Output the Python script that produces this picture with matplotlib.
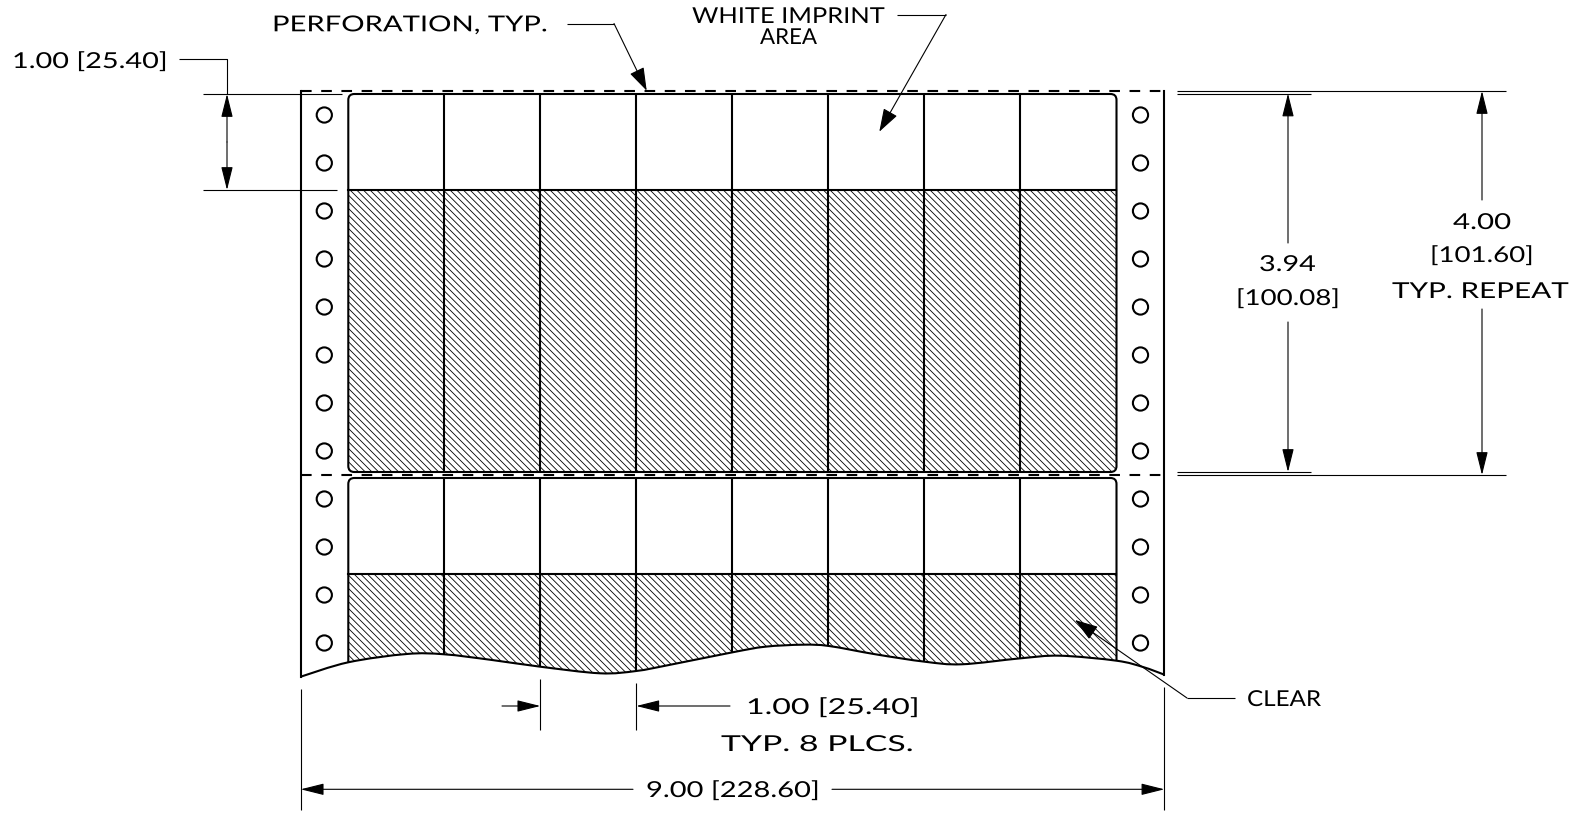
import matplotlib
matplotlib.use("Agg")
import matplotlib.pyplot as plt
from matplotlib.patches import Circle, FancyBboxPatch, PathPatch, Polygon, Rectangle
from matplotlib.path import Path
from matplotlib.patheffects import AbstractPathEffect
from matplotlib.transforms import Affine2D

# everything is in image pixels, y going down
column_edges = [348.3, 444.3, 540.3, 636.3, 732.4, 828.4, 924.4, 1020.4, 1116.5]
hole_rows = [115, 163, 211, 259, 307, 355, 403, 451, 499, 547, 595, 643]
hole_cols = [324.3, 1140.5]
wave_x = [300.7, 348.3, 406.7, 444.3, 492, 540.3, 600, 636.2, 669, 732.6, 765.3,
          803, 829, 875.5, 924.7, 961.6, 1020.7, 1060, 1116.5, 1143, 1164.4]
wave_y = [676.7, 662.3, 654, 654.3, 660, 666.7, 673.3, 671, 665, 652.3, 646.7,
          644.7, 646, 654.3, 661.7, 664.3, 658.3, 655.7, 660.7, 667, 674.7]
paper_left = 300.7
paper_right = 1164.4
perf_lines = [91, 475]
label_texts = ["PERFORATION, TYP.", "WHITE IMPRINT", "AREA", "1.00 [25.40]", "3.94", "[100.08]",
               "4.00", "[101.60]", "TYP. REPEAT", "1.00 [25.40]", "TYP. 8 PLCS.", "9.00 [228.60]", "CLEAR"]
label_left = [272, 692, 760, 12, 1259, 1236, 1453, 1430, 1392, 746, 721, 646, 1247]
label_right = [548, 885, 817, 168, 1316, 1340, 1511, 1534, 1569, 920, 914, 820, 1321]
label_mid = [23.3, 15, 36, 60, 263, 297, 221, 254, 290, 706, 743, 789, 698]

HEAVY = 1.5
THIN = 0.8
plt.rcParams["hatch.linewidth"] = 0.6


class StretchX(AbstractPathEffect):
    # the drawing font is much wider than anything installed
    def __init__(self, factor):
        super().__init__()
        self.factor = factor

    def draw_path(self, renderer, gc, tpath, affine, rgbFace=None):
        renderer.draw_path(gc, tpath, Affine2D().scale(self.factor, 1) + affine, rgbFace)


def smooth_path(xs, ys):
    # catmull-rom through the points
    pts = list(zip(xs, ys))
    verts = [pts[0]]
    codes = [Path.MOVETO]
    for i in range(len(pts) - 1):
        p0 = pts[max(i - 1, 0)]
        p1 = pts[i]
        p2 = pts[i + 1]
        p3 = pts[min(i + 2, len(pts) - 1)]
        verts.append((p1[0] + (p2[0] - p0[0]) / 6, p1[1] + (p2[1] - p0[1]) / 6))
        verts.append((p2[0] - (p3[0] - p1[0]) / 6, p2[1] - (p3[1] - p1[1]) / 6))
        verts.append(p2)
        codes += [Path.CURVE4] * 3
    return Path(verts, codes)


def thin_line(ax, xs, ys):
    ax.plot(xs, ys, color="black", lw=THIN, solid_capstyle="butt", zorder=3)


def arrow(ax, tail, tip, width=0.36):
    ax.annotate("", xy=tip, xytext=tail, zorder=4,
                arrowprops=dict(arrowstyle=f"-|>,head_length=1.44,head_width={width}", color="black",
                                lw=THIN, shrinkA=0, shrinkB=0, mutation_scale=10))


fig = plt.figure(figsize=(15.76, 8.14), dpi=100)
ax = fig.add_axes([0, 0, 1, 1])
ax.set_xlim(0, 1576)
ax.set_ylim(814, 0)
ax.axis("off")

# paper outline with the torn edge
ax.plot([paper_left, paper_left], [perf_lines[0], wave_y[0]], color="black", lw=HEAVY)
ax.plot([paper_right, paper_right], [perf_lines[0], wave_y[-1]], color="black", lw=HEAVY)
ax.add_patch(PathPatch(smooth_path(wave_x, wave_y), fill=False, lw=HEAVY, zorder=3))
for y in perf_lines:
    ax.plot([paper_left, paper_right], [y, y], color="black", lw=HEAVY, dashes=(5.1, 4.6), zorder=3)

# holes
for x in hole_cols:
    for y in hole_rows:
        ax.add_patch(Circle((x, y), 7.6, fill=False, ec="black", lw=HEAVY))

left, right = column_edges[0], column_edges[-1]

# upper label block
top_box = FancyBboxPatch((left, 94), right - left, 378, boxstyle="round,pad=0,rounding_size=6",
                         fc="none", ec="black", lw=HEAVY, zorder=3)
ax.add_patch(top_box)
top_hatch = Rectangle((left, 190), right - left, 282, fill=False, ec="black", lw=0, hatch="\\" * 5)
ax.add_patch(top_hatch)
top_hatch.set_clip_path(top_box)
ax.plot([left, right], [190, 190], color="black", lw=HEAVY, zorder=3)
ax.vlines(column_edges[1:-1], 94, 472, color="black", lw=HEAVY, zorder=3)

# lower label block, cut by the wave
low_i = wave_x.index(left)
high_i = wave_x.index(right)
low_path = smooth_path(wave_x[low_i:high_i + 1], wave_y[low_i:high_i + 1])
low_verts = list(low_path.vertices) + [(right, 484), (right - 6, 478), (left + 6, 478), (left, 484)]
low_clip = Polygon(low_verts, closed=True, fill=False, lw=0)
ax.add_patch(low_clip)
low_outline = Path([(left, wave_y[low_i]), (left, 484), (left, 478), (left + 6, 478), (right - 6, 478),
                    (right, 478), (right, 484), (right, wave_y[high_i])],
                   [Path.MOVETO, Path.LINETO, Path.CURVE3, Path.CURVE3, Path.LINETO,
                    Path.CURVE3, Path.CURVE3, Path.LINETO])
ax.add_patch(PathPatch(low_outline, fill=False, lw=HEAVY, zorder=3))
low_hatch = Rectangle((left, 574), right - left, 110, fill=False, ec="black", lw=0, hatch="\\" * 5)
ax.add_patch(low_hatch)
low_hatch.set_clip_path(low_clip)
ax.plot([left, right], [574, 574], color="black", lw=HEAVY, zorder=3)
low_cols = ax.vlines(column_edges[1:-1], 478, 690, color="black", lw=HEAVY, zorder=3)
low_cols.set_clip_path(low_clip)

# 1.00 height on the left
thin_line(ax, [203, 342], [94, 94])
thin_line(ax, [203, 337], [190, 190])
thin_line(ax, [179, 227, 227], [59, 59, 94])
arrow(ax, (227, 142), (227, 94))
arrow(ax, (227, 142), (227, 190))

# 3.94 and 4.00 on the right
thin_line(ax, [1177, 1311], [93.5, 93.5])
thin_line(ax, [1177, 1311], [472, 472])
thin_line(ax, [1177, 1506], [91, 91])
thin_line(ax, [1177, 1506], [475, 475])
arrow(ax, (1288, 243), (1288, 93.5))
arrow(ax, (1288, 322), (1288, 472))
arrow(ax, (1482, 200), (1482, 91))
arrow(ax, (1482, 309), (1482, 475))

# leaders
thin_line(ax, [567, 614], [23.5, 23.5])
arrow(ax, (614, 23.5), (646.7, 90.7), 0.48)
thin_line(ax, [897, 946], [14.5, 14.5])
arrow(ax, (946, 14.5), (879.3, 131.7), 0.48)
thin_line(ax, [1235, 1187], [698, 698])
arrow(ax, (1187, 698), (1075, 620), 0.48)

# column pitch below the paper
thin_line(ax, [540.3, 540.3], [679, 730])
thin_line(ax, [636.3, 636.3], [683, 730])
arrow(ax, (502, 706), (540.3, 706))
arrow(ax, (730, 706), (636.3, 706))

# overall width
thin_line(ax, [paper_left, paper_left], [689, 810])
thin_line(ax, [paper_right, paper_right], [687, 810])
arrow(ax, (633, 789.3), (paper_left, 789.3))
arrow(ax, (832, 789.3), (paper_right, 789.3))

renderer = fig.canvas.get_renderer()
for text, x0, x1, y in zip(label_texts, label_left, label_right, label_mid):
    t = ax.text(x0, y + 8, text, ha="left", va="baseline", fontsize=15.8, family="Lato",
                weight="normal", color="black")
    width = t.get_window_extent(renderer).width
    t.set_path_effects([StretchX((x1 - x0) / width)])

fig.savefig("out.png", dpi=100, facecolor="white")
